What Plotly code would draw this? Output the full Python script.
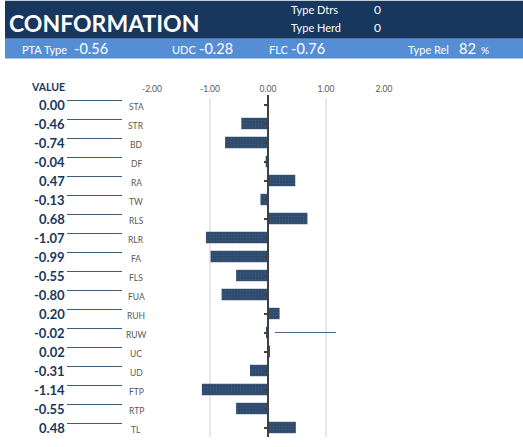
import plotly.graph_objects as go

traits = ["STA", "STR", "BD", "DF", "RA", "TW", "RLS", "RLR", "FA", "FLS",
          "FUA", "RUH", "RUW", "UC", "UD", "FTP", "RTP", "TL"]
values = [0.00, -0.46, -0.74, -0.04, 0.47, -0.13, 0.68, -1.07, -0.99, -0.55,
          -0.80, 0.20, -0.02, 0.02, -0.31, -1.14, -0.55, 0.48]
tick_vals = [-2, -1, 0, 1, 2]
tick_text = ["-2.00", "-1.00", "0.00", "1.00", "2.00"]
grid_vals = [-1, 1]
stray_x = [0.12, 1.17]
stray_trait = ["RUW", "RUW"]

header_title = "CONFORMATION"
header_info = [("Type Dtrs", "0"), ("Type Herd", "0")]
band_items = [("PTA Type", "-0.56"), ("UDC", "-0.28"), ("FLC", "-0.76")]
type_rel = "82"

W, H = 523, 447
L, R, T, B = 152, 384, 94.5, 437.5
FONT = "Lato"
NAVY = "#17375E"


def px(x):
    return (x - L) / (R - L)


def py(y):
    return (B - y) / (B - T)


fig = go.Figure()
fig.add_trace(go.Bar(
    x=values, y=traits, orientation="h",
    marker=dict(color="#2F4C6E", line=dict(width=0),
                pattern=dict(shape=".", fgcolor="#56708F", size=3, solidity=0.12)),
    width=0.6, hoverinfo="x+y",
))
fig.add_trace(go.Scatter(
    x=stray_x, y=stray_trait, mode="lines",
    line=dict(color="#4A6585", width=1), hoverinfo="skip",
))

shapes = []
annotations = []

# grid lines
for g in grid_vals:
    shapes.append(dict(type="line", xref="x", yref="paper", x0=g, x1=g,
                       y0=0, y1=py(98), line=dict(color="#D9D9D9", width=1.2),
                       layer="below"))

# header backgrounds
shapes.append(dict(type="rect", xref="paper", yref="paper", x0=px(5), x1=px(523),
                   y0=py(38), y1=py(0), fillcolor=NAVY, line=dict(width=0), layer="below"))
shapes.append(dict(type="rect", xref="paper", yref="paper", x0=px(5), x1=px(523),
                   y0=py(58), y1=py(38), fillcolor="#558ED5", line=dict(width=0), layer="below"))

annotations.append(dict(text="<b>" + header_title + "</b>", xref="paper", yref="paper",
                        x=px(7), y=py(22), xanchor="left", yanchor="middle",
                        showarrow=False, font=dict(family=FONT, size=23, color="white")))
for i, (lab, val) in enumerate(header_info):
    yy = 9 + i * 18
    annotations.append(dict(text=lab, xref="paper", yref="paper", x=px(289), y=py(yy),
                            xanchor="left", yanchor="middle", showarrow=False,
                            font=dict(family=FONT, size=11, color="white")))
    annotations.append(dict(text=val, xref="paper", yref="paper", x=px(372), y=py(yy),
                            xanchor="left", yanchor="middle", showarrow=False,
                            font=dict(family=FONT, size=12, color="white")))

band_x = [(20, 72), (170, 197), (267, 289)]
for (lab, val), (xl, xv) in zip(band_items, band_x):
    annotations.append(dict(text=lab, xref="paper", yref="paper", x=px(xl), y=py(48.5),
                            xanchor="left", yanchor="middle", showarrow=False,
                            font=dict(family=FONT, size=11, color="white")))
    annotations.append(dict(text=val, xref="paper", yref="paper", x=px(xv), y=py(47.5),
                            xanchor="left", yanchor="middle", showarrow=False,
                            font=dict(family=FONT, size=14.5, color="white")))
annotations.append(dict(text="Type Rel", xref="paper", yref="paper", x=px(406), y=py(48.5),
                        xanchor="left", yanchor="middle", showarrow=False,
                        font=dict(family=FONT, size=11, color="white")))
annotations.append(dict(text=type_rel, xref="paper", yref="paper", x=px(457), y=py(47.5),
                        xanchor="left", yanchor="middle", showarrow=False,
                        font=dict(family=FONT, size=14.5, color="white")))
annotations.append(dict(text="%", xref="paper", yref="paper", x=px(479), y=py(49),
                        xanchor="left", yanchor="middle", showarrow=False,
                        font=dict(family=FONT, size=10, color="white")))

# VALUE header
annotations.append(dict(text="<b>VALUE</b>", xref="paper", yref="paper", x=px(67), y=py(86),
                        xanchor="right", yanchor="middle", showarrow=False,
                        font=dict(family=FONT, size=10.5, color=NAVY)))

# left value labels, underlines, category labels
for t, v in zip(traits, values):
    annotations.append(dict(text="<b>%.2f</b>" % v, xref="paper", yref="y", x=px(67), y=t,
                            xanchor="right", yanchor="middle", showarrow=False,
                            yshift=0, font=dict(family=FONT, size=13, color=NAVY)))
    annotations.append(dict(text=t, xref="paper", yref="y", x=px(136), y=t,
                            xanchor="center", yanchor="middle", showarrow=False,
                            yshift=-2, font=dict(family=FONT, size=8.5, color="#595959")))
    shapes.append(dict(type="line", xref="paper", yref="y", x0=px(67), x1=px(122),
                       y0=4, y1=4, ysizemode="pixel", yanchor=t,
                       line=dict(color="#3F5B7A", width=1)))

fig.update_layout(
    width=W, height=H,
    margin=dict(l=L, r=W - R, t=T, b=H - B),
    paper_bgcolor="white", plot_bgcolor="white",
    showlegend=False, bargap=0.42,
    shapes=shapes, annotations=annotations,
    xaxis=dict(range=[-2, 2], side="top", tickvals=tick_vals, ticktext=tick_text,
               showgrid=False, zeroline=False, showline=False, ticks="",
               tickfont=dict(family=FONT, size=8.5, color="#595959"), fixedrange=True),
    yaxis=dict(categoryorder="array", categoryarray=traits[::-1], autorange=False,
               range=[-0.5, len(traits) - 0.5],
               anchor="free", position=0.5, showline=True, linecolor="#404040", linewidth=2,
               ticks="outside", ticklen=3, tickcolor="#404040", tickwidth=1.5,
               showticklabels=False, showgrid=False, zeroline=False, fixedrange=True),
)

fig.write_html("out.html", config={"displayModeBar": False},
               post_script="document.body.style.margin='0';document.body.style.overflow='hidden';")
